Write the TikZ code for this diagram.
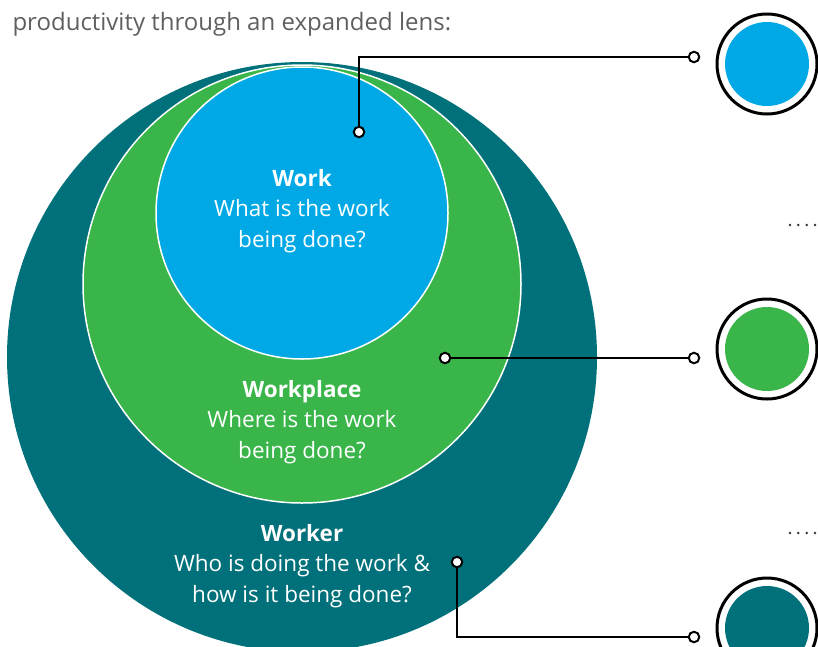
\documentclass[tikz,border=0pt]{standalone}
\usepackage{fontspec}
\setmainfont{Open Sans}
\usetikzlibrary{positioning}
\definecolor{lensBlue}{RGB}{0,169,230}
\definecolor{lensGreen}{RGB}{57,181,74}
\definecolor{lensTeal}{RGB}{0,112,122}
\definecolor{lensGrey}{RGB}{95,95,95}

\begin{document}
\begin{tikzpicture}[x=1pt,y=-1pt,
    disc/.style={circle,inner sep=0pt,minimum size=#1},
    caption/.style={text=white,align=center,font=\fontsize{22.5}{30.5}\selectfont},
    badge/.style={circle,draw=black,line width=3pt,fill=white,inner sep=0pt,minimum size=100pt},
    pin/.style={circle,draw=black,fill=white,line width=2pt,inner sep=0pt,minimum size=10.5pt},
    wire/.style={draw=black,line width=2.4pt}
  ]
  \useasboundingbox (0,0) rectangle (818,646);
  \clip (0,0) rectangle (818,646);

  % nested lens circles
  \node[disc=590pt,fill=lensTeal] (worker) at (302,357) {};
  \node[disc=438pt,fill=lensGreen,draw=white,line width=1.5pt] (workplace) at (302,284) {};
  \node[disc=292pt,fill=lensBlue,draw=white,line width=1.5pt] (work) at (302,213) {};

  \node[caption] (workTxt) at (302,211) {\textbf{Work}\\What is the work\\being done?};
  \node[caption] (workplaceTxt) at (302,422) {\textbf{Workplace}\\Where is the work\\being done?};
  \node[caption] (workerTxt) at (302,566) {\textbf{Worker}\\Who is doing the work \&\\how is it being done?};

  \node[anchor=base west,text=lensGrey,font=\fontsize{24}{28}\selectfont] (intro) at (9,30) {productivity through an expanded lens:};

  % badges on the right
  \node[badge] (badgeWork) at (767,64) {};
  \node[disc=84pt,fill=lensBlue] at (badgeWork) {};
  \node[badge] (badgeWorkplace) at (767,349) {};
  \node[disc=84pt,fill=lensGreen] at (badgeWorkplace) {};
  \node[badge] (badgeWorker) at (767,628) {};
  \node[disc=84pt,fill=lensTeal] at (badgeWorker) {};

  % leader lines
  \node[pin] (pWork) at (359,132) {};
  \node[pin] (pWorkR) at (694,57) {};
  \node[pin] (pPlace) at (445,358) {};
  \node[pin] (pPlaceR) at (694,358) {};
  \node[pin] (pWorker) at (457,562) {};
  \node[pin] (pWorkerR) at (694,637) {};
  \draw[wire] (pWork) |- (pWorkR);
  \draw[wire] (pPlace) -- (pPlaceR);
  \draw[wire] (pWorker) |- (pWorkerR);

  \foreach \y in {225,533}
    \foreach \x in {790,798.3,806.7,815}
      \fill[black!80] (\x,\y) circle (1.4pt);
\end{tikzpicture}
\end{document}
